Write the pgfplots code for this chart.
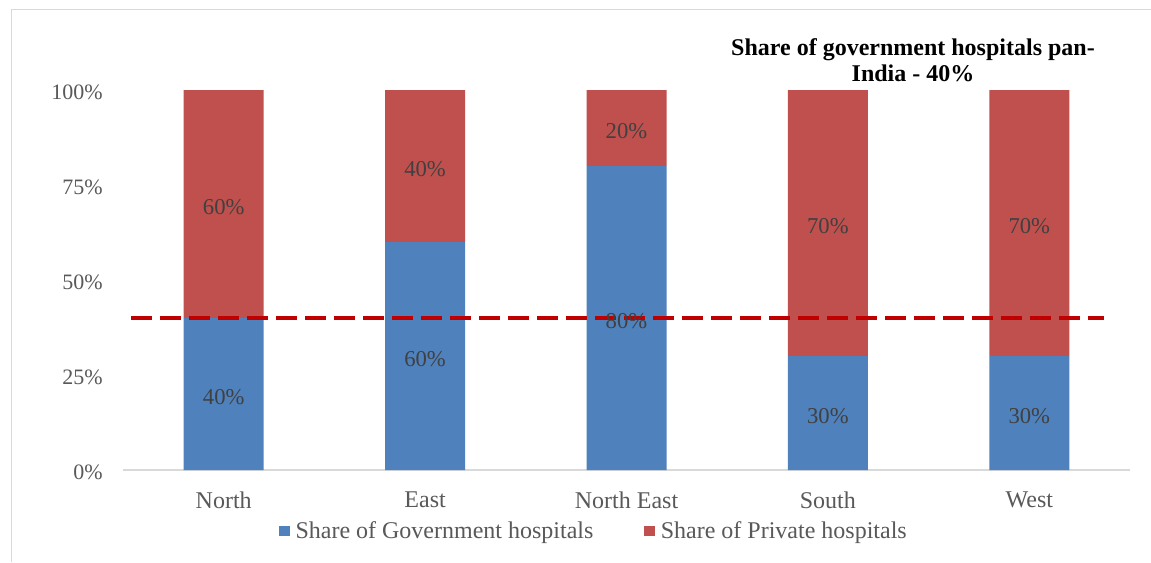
\documentclass[border=0pt]{standalone}
\usepackage{pgfplots}
\pgfplotsset{compat=1.18}
\usepackage{fontspec}
\setmainfont{Liberation Serif}
\definecolor{govblue}{HTML}{4F81BD}
\definecolor{privred}{HTML}{C0504D}
\definecolor{dashred}{HTML}{C00000}
\definecolor{ticktext}{HTML}{595959}
\definecolor{labeltext}{HTML}{404040}
\definecolor{framegrey}{HTML}{D9D9D9}
\begin{document}
\begin{tikzpicture}
\useasboundingbox (0,0) rectangle (863.25pt,421.5pt);
\fill[white] (0,0) rectangle (863.25pt,421.5pt);
\draw[framegrey, line width=0.75pt] (8.25pt,0) -- (8.25pt,414pt) -- (863.25pt,414pt);
\begin{axis}[
  at={(92.25pt,69pt)}, anchor=south west,
  scale only axis, width=755.25pt, height=285pt,
  xmin=-0.5, xmax=4.5, ymin=0, ymax=1,
  ybar stacked, bar width=60pt,
  xtick={0,1,2,3,4}, xticklabels={North,East,North East,South,West},
  ytick={0,0.25,0.5,0.75,1}, yticklabels={0\%,25\%,50\%,75\%,100\%},
  axis x line*=bottom, axis y line*=left,
  x axis line style={draw=framegrey, line width=1.5pt, -},
  y axis line style={draw=none},
  major tick length=0pt,
  tick style={draw=none},
  xticklabel style={font=\fontsize{18}{21.6}\selectfont, text=ticktext, yshift=-12.5pt},
  yticklabel style={font=\fontsize{16.5}{19.8}\selectfont, text=ticktext, xshift=-11.75pt, yshift=-1.5pt},
  legend style={at={(0.4692,-0.1605)}, anchor=center, draw=none, fill=none,
    legend columns=2, font=\fontsize{18}{21.6}\selectfont, text=ticktext,
    nodes={inner xsep=4pt},
    /tikz/every even column/.append style={column sep=34pt}},
  legend image code/.code={\fill[#1] (0pt,-4.1pt) rectangle (8.5pt,4.1pt);},
]
\addplot[fill=govblue, draw=none] coordinates {(0,0.4) (1,0.6) (2,0.8) (3,0.3) (4,0.3)};
\addplot[fill=privred, draw=none] coordinates {(0,0.6) (1,0.4) (2,0.2) (3,0.7) (4,0.7)};
\legend{Share of Government hospitals, Share of Private hospitals}
\end{axis}
\begin{axis}[
  at={(92.25pt,69pt)}, anchor=south west,
  scale only axis, width=755.25pt, height=285pt,
  xmin=-0.5, xmax=4.5, ymin=0, ymax=1,
  hide axis, clip=false,
]
\addplot[draw=none, mark=none, nodes near coords, point meta=explicit symbolic,
  every node near coord/.append style={anchor=center, yshift=-2pt, font=\fontsize{17}{20.4}\selectfont, text=labeltext}]
  coordinates {
  (0,0.2) [40\%] (0,0.7) [60\%]
  (1,0.3) [60\%] (1,0.8) [40\%]
  (2,0.4) [80\%] (2,0.9) [20\%]
  (3,0.15) [30\%] (3,0.65) [70\%]
  (4,0.15) [30\%] (4,0.65) [70\%]
  };
\addplot[dashred, line width=2.3pt, dash pattern=on 15.75pt off 6pt] coordinates {(-0.46,0.4) (4.371,0.4)};
\end{axis}
\node[align=center, font=\bfseries\fontsize{18}{19.5}\selectfont] at (684.75pt,376.5pt) {Share of government hospitals pan-\\India - 40\%};
\end{tikzpicture}
\end{document}
